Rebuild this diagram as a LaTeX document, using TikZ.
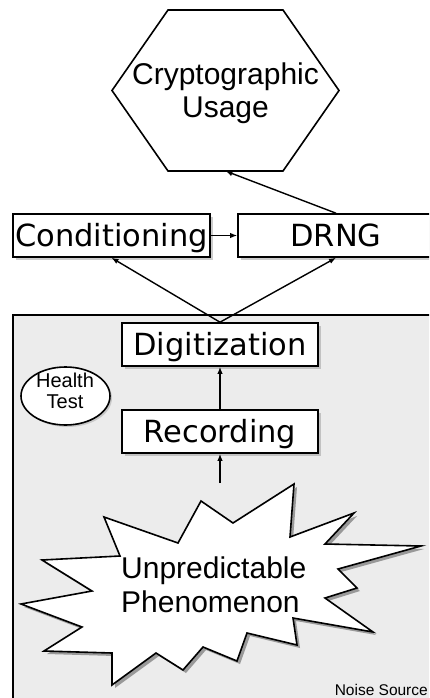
\documentclass[tikz,border=0pt]{standalone}
\usepackage{fontspec}
\setmainfont{DejaVu Sans}
\newfontfamily\arialf{Liberation Sans}
\usetikzlibrary{arrows.meta,shadows,shapes.geometric}
\definecolor{noisebg}{RGB}{236,236,236}
\newcommand\burstpath{(201,501) -- (233,523) -- (294,484) -- (290,537) -- (354,513) -- (325,544) -- (421,546) -- (338,569) -- (357,588) -- (325,598) -- (373,632) -- (293,618) -- (297,645) -- (247,633) -- (237,661) -- (203,647) -- (183,670) -- (156,653) -- (112,685) -- (112,653) -- (44,651) -- (82,627) -- (21,604) -- (92,591) -- (42,560) -- (120,556) -- (104,517) -- (178,543) -- cycle}
\begin{document}
\begin{tikzpicture}[x=1pt,y=-1pt,
  box/.style={draw, line width=1.6pt, fill=white, minimum width=196pt, minimum height=43pt, inner sep=0pt,
    font=\fontsize{30.5}{33}\selectfont, text height=22pt, text depth=0pt,
    drop shadow={shadow xshift=3pt, shadow yshift=-3pt, fill=black!40}},
  arr/.style={line width=1.4pt, -{Latex[length=7pt,width=5.5pt]}},
  arialtext/.style={font=\arialf\fontsize{30}{33}\selectfont}
]
\useasboundingbox (0,0) rectangle (429,698);
\clip (0,0) rectangle (429,698);
% noise source container
\draw[line width=1.6pt, fill=noisebg] (13,315) rectangle (440,712);
\node[anchor=base east, font=\arialf\fontsize{15.5}{18}\selectfont, inner sep=0pt] (noiselabel) at (428,695) {Noise Source};
% hexagon
\draw[line width=1.6pt, fill=white] (168,10) -- (283,10) -- (339,90.5) -- (283,171) -- (168,171) -- (112,90.5) -- cycle;
\coordinate (hexbot) at (225.5,171);
\node[arialtext, align=center] (crypto) at (225.5,93) {Cryptographic\\Usage};
% boxes
\node[box, minimum width=197pt] (cond) at (111.5,235.5) {Conditioning};
\node[box] (drng) at (336,235.5) {DRNG};
\node[box] (dig) at (220,344.5) {Digitization};
\node[box] (rec) at (220,431.5) {Recording};
% health test
\node[ellipse, draw, line width=1.6pt, fill=white, minimum width=89pt, minimum height=58pt, inner sep=0pt,
  drop shadow={shadow xshift=2pt, shadow yshift=-2pt, fill=black!35}] (health) at (65.5,396) {};
\node[font=\arialf\fontsize{20}{21.5}\selectfont, align=center] (healthtext) at (65,391) {Health\\Test};
% starburst
\fill[black!40, shift={(3,3)}] \burstpath;
\draw[line width=1.6pt, fill=white, line join=miter] \burstpath;
\node[arialtext, align=left, anchor=west, inner sep=0pt, font=\arialf\fontsize{30}{34}\selectfont] (phen) at (121,585) {Unpredictable\\Phenomenon};
\coordinate (phentop) at (220,483);
% arrows
\draw[arr] (phentop) -- (rec.south);
\draw[arr] (rec.north) -- (dig.south);
\draw[arr] (dig.north) -- (cond.south);
\draw[arr] (dig.north) -- (drng.south);
\draw[arr] (cond.east) -- (drng.west);
\draw[arr] (drng.north) -- (hexbot);
\end{tikzpicture}
\end{document}
